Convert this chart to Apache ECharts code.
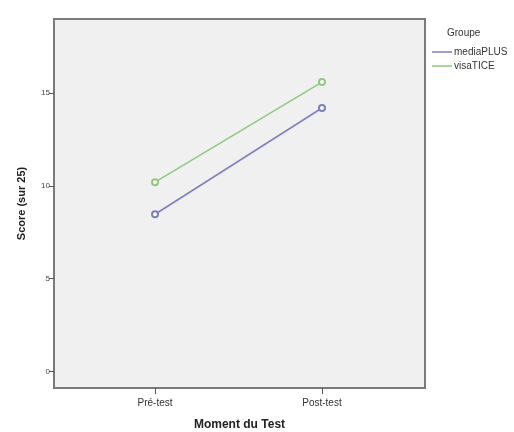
<!DOCTYPE html>
<html><head><meta charset="utf-8">
<script src="https://cdn.jsdelivr.net/npm/echarts@6/dist/echarts.min.js"></script>
<style>html,body{margin:0;padding:0;background:#fff}#c{width:514px;height:432px}</style>
</head><body><div id="c"></div>
<script>
const categories = ['Pré-test', 'Post-test'];
const mediaPLUS = [8.47, 14.2];
const visaTICE = [10.2, 15.6];
const yTicks = [0, 5, 10, 15];

const chart = echarts.init(document.getElementById('c'));
const font = 'Liberation Sans, Arial, sans-serif';
chart.setOption({
  animation: false,
  grid: {left: 54, right: 89, top: 19, bottom: 44, containLabel: false, outerBoundsMode: 'none', show: true, backgroundColor: '#f0f0f0', borderColor: '#7a7a7a', borderWidth: 2},
  legend: {
    orient: 'vertical', left: 427, top: 42, itemGap: 4, itemWidth: 20, itemHeight: 1.5, icon: 'rect',
    textStyle: {fontFamily: font, fontSize: 10, color: '#333', padding: [0,0,0,-3]},
    data: ['mediaPLUS', 'visaTICE']
  },
  graphic: [{type: 'text', left: 447, top: 28, style: {text: 'Groupe', fontFamily: font, fontSize: 10, fill: '#333'}}],
  xAxis: {
    type: 'value', min: -0.605, max: 1.617,
    name: 'Moment du Test', nameLocation: 'middle', nameGap: 31,
    nameTextStyle: {fontFamily: font, fontSize: 12, fontWeight: 'bold', color: '#222'},
    axisLine: {show: false, onZero: false},
    axisTick: {show: true, customValues: [0, 1], length: 6, lineStyle: {color: '#555'}},
    axisLabel: {customValues: [0, 1], formatter: v => categories[Math.round(v)] || '', fontFamily: font, fontSize: 10, color: '#333', margin: 10},
    splitLine: {show: false}
  },
  yAxis: {
    type: 'value', min: -0.9, max: 19,
    name: 'Score (sur 25)', nameLocation: 'middle', nameGap: 27, nameRotate: 90,
    nameTextStyle: {fontFamily: font, fontSize: 11, fontWeight: 'bold', color: '#222'},
    axisLine: {show: false, onZero: false},
    axisTick: {show: true, customValues: yTicks, length: 5, lineStyle: {color: '#555'}},
    axisLabel: {customValues: yTicks, fontFamily: font, fontSize: 8, color: '#444', margin: 4},
    splitLine: {show: false}
  },
  series: [
    {name: 'mediaPLUS', type: 'line', data: mediaPLUS.map((v,i)=>[i,v]), color: '#7d7fbf',
     symbol: 'emptyCircle', symbolSize: 6, lineStyle: {width: 1.5}, itemStyle: {borderWidth: 1}},
    {name: 'visaTICE', type: 'line', data: visaTICE.map((v,i)=>[i,v]), color: '#8ccc78',
     symbol: 'emptyCircle', symbolSize: 6, lineStyle: {width: 1.5}, itemStyle: {borderWidth: 1}}
  ]
});
</script></body></html>
